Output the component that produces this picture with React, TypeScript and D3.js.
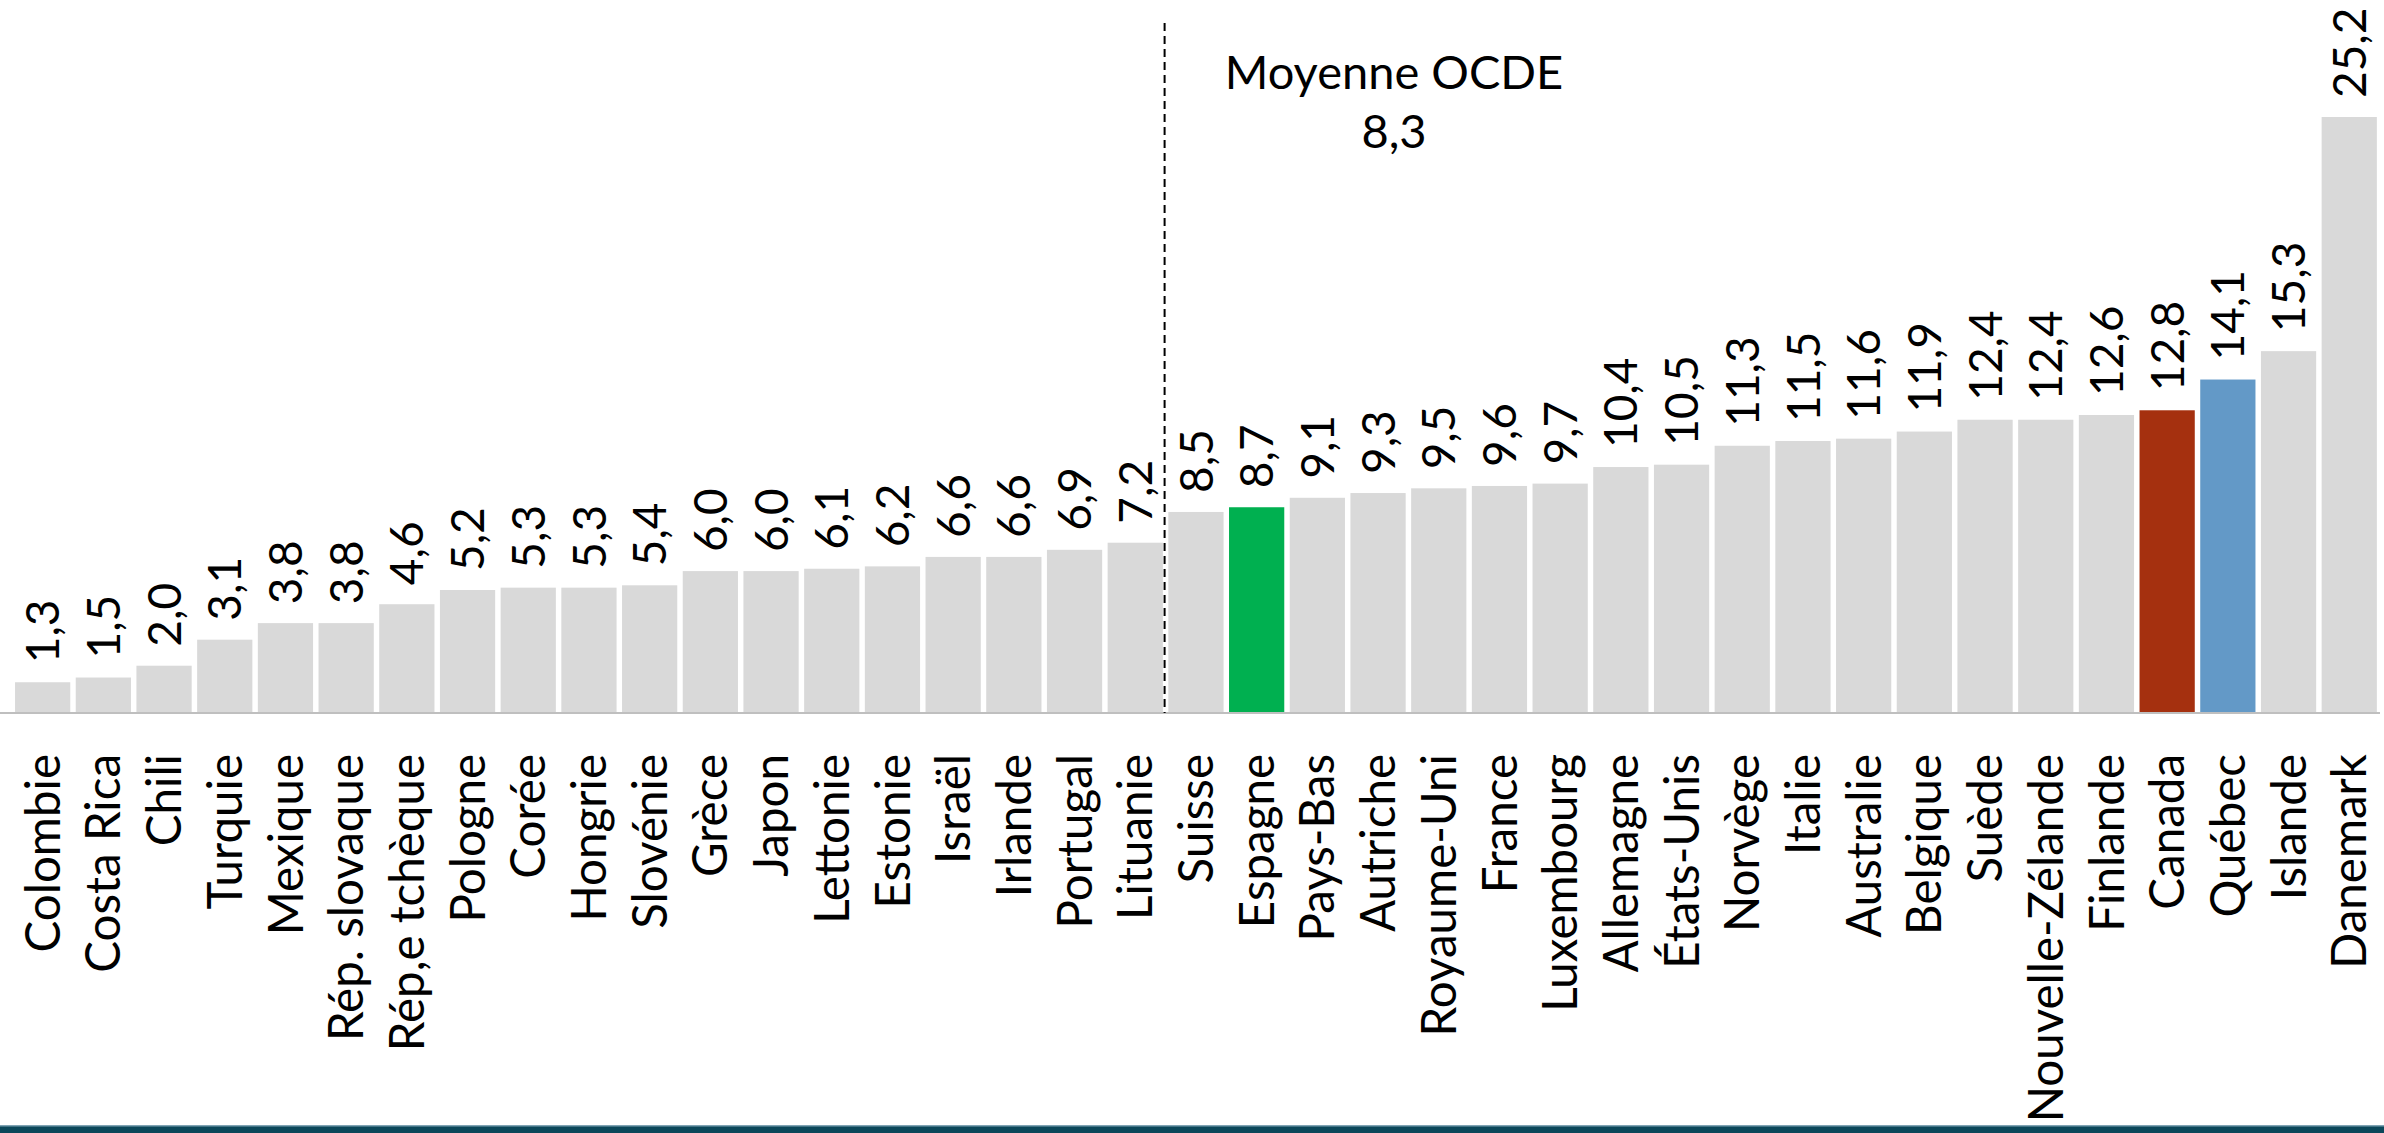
import React from "react";
import * as d3 from "d3";

const categories = [
  "Colombie", "Costa Rica", "Chili", "Turquie", "Mexique", "Rép. slovaque", "Rép,e tchèque",
  "Pologne", "Corée", "Hongrie", "Slovénie", "Grèce", "Japon", "Lettonie", "Estonie", "Israël",
  "Irlande", "Portugal", "Lituanie", "Suisse", "Espagne", "Pays-Bas", "Autriche", "Royaume-Uni",
  "France", "Luxembourg", "Allemagne", "États-Unis", "Norvège", "Italie", "Australie", "Belgique",
  "Suède", "Nouvelle-Zélande", "Finlande", "Canada", "Québec", "Islande", "Danemark",
];
const values = [
  1.3, 1.5, 2.0, 3.1, 3.8, 3.8, 4.6, 5.2, 5.3, 5.3, 5.4, 6.0, 6.0, 6.1, 6.2, 6.6, 6.6, 6.9, 7.2,
  8.5, 8.7, 9.1, 9.3, 9.5, 9.6, 9.7, 10.4, 10.5, 11.3, 11.5, 11.6, 11.9, 12.4, 12.4, 12.6, 12.8,
  14.1, 15.3, 25.2,
];
const highlight: Record<string, string> = {
  Espagne: "#00b050",
  Canada: "#a5300f",
  "Québec": "#6399c7",
};
const averageLabel = "Moyenne OCDE";
const averageValue = 8.3;
const averageAfter = "Lituanie";

const W = 2384;
const H = 1133;
const FONT = "Lato, 'Open Sans', sans-serif";
const fmt = (v: number) => v.toFixed(1).replace(".", ",");

export default function App() {
  const x = d3.scaleBand<string>().domain(categories).range([12.3, 2379.6]).paddingInner(0.09).paddingOuter(0.045);
  const y = d3.scaleLinear().domain([0, 30]).range([713, 713 - 30 * 23.65]);
  const bw = x.bandwidth();
  const step = x.step();
  const avgX = (x(averageAfter) as number) + bw + (step - bw) / 2 - 1;

  return (
    <svg width={W} height={H} style={{ position: "absolute", left: 0, top: 0, background: "#fff" }} fontFamily={FONT}>
      <rect x={0} y={0} width={W} height={H} fill="#fff" />
      {categories.map((c, i) => (
        <rect key={c} x={x(c)} y={y(values[i])} width={bw} height={y(0) - y(values[i])} fill={highlight[c] || "#d9d9d9"} />
      ))}
      <line x1={0} x2={2380} y1={y(0)} y2={y(0)} stroke="#bfbfbf" strokeWidth={2} />
      {categories.map((c, i) => {
        const cx = (x(c) as number) + bw / 2;
        const ty = y(values[i]) - 19;
        return (
          <text key={"v" + c} transform={`translate(${cx},${ty}) rotate(-90)`} dy="0.36em" fontSize={46} fill="#000">
            {fmt(values[i])}
          </text>
        );
      })}
      {categories.map((c) => {
        const cx = (x(c) as number) + bw / 2;
        return (
          <text key={"c" + c} transform={`translate(${cx},754) rotate(-90)`} dy="0.36em" textAnchor="end" fontSize={47.5} fill="#000">
            {c}
          </text>
        );
      })}
      <line x1={avgX} x2={avgX} y1={23} y2={y(0)} stroke="#000" strokeWidth={2} strokeDasharray="8,5" />
      <text x={1394} y={89} textAnchor="middle" fontSize={47} fill="#000">{averageLabel}</text>
      <text x={1394} y={148} textAnchor="middle" fontSize={47} fill="#000">{fmt(averageValue)}</text>
      <rect x={0} y={1126} width={W} height={7} fill="#0b475a" />
      <rect x={0} y={1125} width={W} height={1.5} fill="#7fa3b3" />
    </svg>
  );
}
